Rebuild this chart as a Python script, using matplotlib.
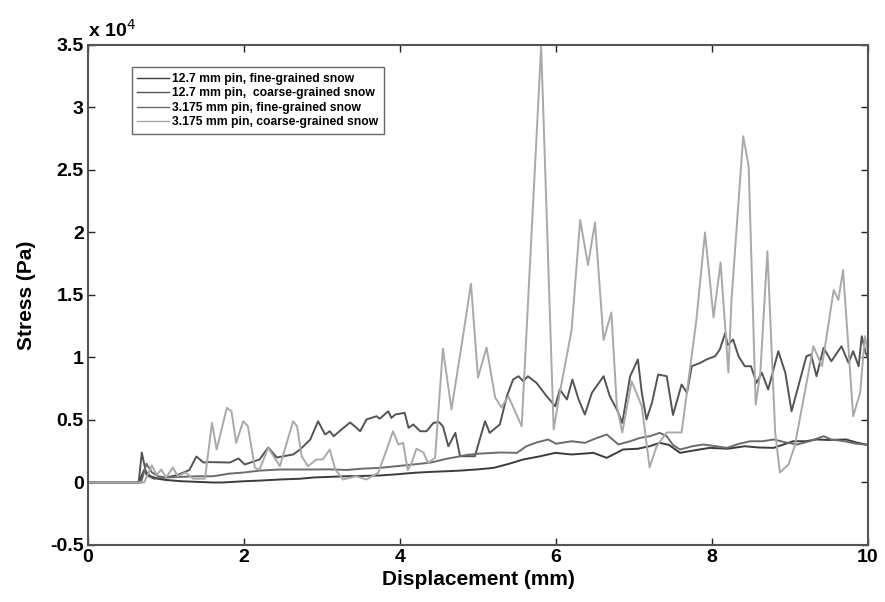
import matplotlib
matplotlib.use("Agg")
import matplotlib.pyplot as plt
from matplotlib.ticker import FuncFormatter, MultipleLocator

plt.rcParams["font.family"] = ["Liberation Sans", "DejaVu Sans"]

# 12.7 mm pin, fine-grained snow
x_fine_127 = [0, 0.65, 0.72, 0.8, 0.9, 1.0, 1.2, 1.4, 1.6, 1.73, 2.0, 2.2, 2.46, 2.72,
              2.89, 3.1, 3.32, 3.5, 3.74, 3.95, 4.17, 4.4, 4.6, 4.77, 5.0, 5.2, 5.4,
              5.58, 5.8, 5.99, 6.2, 6.48, 6.65, 6.86, 7.05, 7.2, 7.33, 7.45, 7.59, 7.8,
              7.97, 8.2, 8.42, 8.6, 8.79, 9.04, 9.2, 9.34, 9.5, 9.72, 9.85, 10.0]
y_fine_127 = [0, 0, 1000, 500, 300, 200, 100, 50, 0, 0, 100, 150, 240, 300,
              400, 450, 500, 520, 560, 650, 770, 850, 900, 950, 1050, 1170, 1500,
              1840, 2100, 2370, 2240, 2370, 1970, 2640, 2700, 2900, 3170, 3000, 2370, 2600,
              2770, 2700, 2900, 2800, 2770, 3300, 3300, 3440, 3400, 3440, 3200, 3000]

# 12.7 mm pin, coarse-grained snow
x_coarse_127 = [0, 0.65, 0.69, 0.75, 0.85, 1.0, 1.15, 1.3, 1.39, 1.48, 1.55, 1.82, 1.93,
                2.01, 2.2, 2.31, 2.42, 2.63, 2.72, 2.85, 2.95, 3.04, 3.1, 3.15, 3.25,
                3.36, 3.42, 3.49, 3.57, 3.7, 3.74, 3.85, 3.89, 3.94, 4.06, 4.11, 4.17,
                4.26, 4.34, 4.43, 4.5, 4.55, 4.62, 4.71, 4.77, 4.96, 5.09, 5.15, 5.28,
                5.37, 5.45, 5.52, 5.58, 5.64, 5.75, 5.88, 5.99, 6.05, 6.14, 6.21, 6.29,
                6.37, 6.46, 6.61, 6.69, 6.78, 6.85, 6.95, 7.05, 7.1, 7.16, 7.23, 7.31,
                7.42, 7.5, 7.61, 7.68, 7.74, 7.85, 7.93, 8.04, 8.1, 8.17, 8.2, 8.27,
                8.34, 8.42, 8.5, 8.57, 8.64, 8.72, 8.85, 8.94, 9.02, 9.13, 9.21, 9.27,
                9.34, 9.43, 9.53, 9.66, 9.75, 9.81, 9.88, 9.92, 9.97, 10.0]
y_coarse_127 = [0, 0, 2400, 600, 300, 400, 600, 1000, 2080, 1600, 1630, 1600, 1920,
                1440, 1840, 2800, 2000, 2240, 2640, 3440, 4900, 3840, 4100, 3700, 4240,
                4800, 4500, 4100, 5040, 5300, 5100, 5700, 5170, 5440, 5570, 4370, 4640,
                4100, 4100, 4770, 4830, 4500, 2900, 3970, 2100, 2100, 4900, 3970, 4640,
                6900, 8240, 8500, 8100, 8500, 7970, 6900, 6100, 7440, 6640, 8240, 6640,
                5440, 7170, 8500, 6900, 5840, 4770, 8500, 9840, 7170, 5040, 6370, 8640,
                8500, 5400, 7840, 7170, 9300, 9570, 9840, 10100, 10640, 11970, 11000, 11440,
                10100, 9300, 9300, 7970, 8770, 7440, 10500, 8770, 5700, 8240, 10100, 10240,
                8500, 10770, 9700, 10900, 9570, 10500, 9300, 11700, 10370, 10000]

# 3.175 mm pin, fine-grained snow
x_fine_3175 = [0, 0.68, 0.75, 0.82, 0.9, 1.0, 1.2, 1.4, 1.61, 1.8, 2.0, 2.2, 2.46, 2.72,
               2.89, 3.1, 3.32, 3.5, 3.74, 3.95, 4.17, 4.4, 4.6, 4.69, 4.85, 5.0, 5.28,
               5.5, 5.62, 5.75, 5.9, 6.0, 6.2, 6.37, 6.5, 6.65, 6.8, 6.95, 7.08, 7.2,
               7.33, 7.42, 7.5, 7.59, 7.75, 7.89, 8.05, 8.19, 8.35, 8.49, 8.65, 8.79,
               8.95, 9.09, 9.25, 9.43, 9.53, 9.7, 9.85, 9.96, 10.0]
y_fine_3175 = [0, 0, 1500, 800, 500, 400, 450, 500, 500, 700, 800, 950, 1040, 1040,
               1040, 1050, 1000, 1100, 1170, 1300, 1440, 1600, 1900, 2000, 2200, 2300, 2400,
               2370, 2900, 3200, 3440, 3100, 3300, 3170, 3500, 3840, 3040, 3300, 3570, 3700,
               3970, 3700, 3000, 2640, 2900, 3040, 2900, 2770, 3100, 3300, 3300, 3440,
               3200, 3040, 3300, 3700, 3440, 3300, 3100, 3040, 3000]

# 3.175 mm pin, coarse-grained snow
x_coarse_3175 = [0, 0.72, 0.82, 0.88, 0.94, 1.0, 1.09, 1.15, 1.25, 1.35, 1.5, 1.59, 1.65,
                 1.78, 1.84, 1.9, 1.99, 2.05, 2.14, 2.2, 2.31, 2.46, 2.63, 2.68, 2.74,
                 2.82, 2.93, 3.01, 3.1, 3.17, 3.27, 3.44, 3.57, 3.72, 3.83, 3.91, 3.98,
                 4.04, 4.1, 4.15, 4.21, 4.3, 4.36, 4.45, 4.55, 4.66, 4.8, 4.91, 5.0, 5.11,
                 5.22, 5.3, 5.39, 5.56, 5.81, 5.97, 6.05, 6.2, 6.31, 6.41, 6.5, 6.61,
                 6.71, 6.78, 6.85, 6.97, 7.1, 7.2, 7.29, 7.42, 7.5, 7.61, 7.8, 7.91, 8.02,
                 8.11, 8.21, 8.25, 8.4, 8.47, 8.56, 8.62, 8.71, 8.81, 8.87, 8.98, 9.06,
                 9.3, 9.41, 9.56, 9.62, 9.68, 9.81, 9.9, 9.96, 10.0]
y_coarse_3175 = [0, 0, 1360, 600, 1040, 400, 1200, 500, 800, 300, 300, 4770, 2640,
                 5970, 5700, 3170, 4900, 4500, 1170, 1040, 2770, 1300, 4900, 4500, 2100,
                 1300, 1840, 1840, 2640, 1040, 240, 500, 240, 770, 2640, 4100, 3040,
                 3170, 1000, 1570, 2700, 2400, 1570, 1970, 10700, 5840, 11400, 15900, 8400, 10800,
                 6800, 6000, 6900, 4500, 34900, 4240, 7200, 12200, 21000, 17400, 20800, 11400,
                 13600, 6100, 4000, 8100, 6100, 1200, 2900, 4000, 4000, 4000, 13000, 20000, 13200,
                 17600, 8800, 14600, 27700, 25300, 6240, 8800, 18500, 4000, 800, 1440, 2900,
                 10900, 9300, 15400, 14600, 17000, 5300, 7200, 11700, 10500]

labels = ["12.7 mm pin, fine-grained snow",
          "12.7 mm pin,  coarse-grained snow",
          "3.175 mm pin, fine-grained snow",
          "3.175 mm pin, coarse-grained snow"]
colors = ["#3c3c3c", "#545454", "#6c6c6c", "#a9a9a9"]

series = [(x_fine_127, y_fine_127), (x_coarse_127, y_coarse_127),
          (x_fine_3175, y_fine_3175), (x_coarse_3175, y_coarse_3175)]

fig = plt.figure(figsize=(8.85, 6.02), dpi=100)
ax = fig.add_axes([0.0994, 0.0947, 0.8814, 0.8306])

for (xs, ys), lab, col in zip(series, labels, colors):
    ax.plot(xs, ys, color=col, lw=1.4, label=lab)

ax.set_xlim(0, 10)
ax.set_ylim(-5000, 35000)
ax.xaxis.set_major_locator(MultipleLocator(2))
ax.yaxis.set_major_locator(MultipleLocator(5000))
ax.yaxis.set_major_formatter(FuncFormatter(lambda v, p: "%g" % (v / 1e4)))

ax.tick_params(direction="in", length=5, width=1, top=True, right=True,
               labelsize=14, pad=3, color="#222222")
for lab in ax.get_xticklabels() + ax.get_yticklabels():
    lab.set_fontweight("bold")
for sp in ax.spines.values():
    sp.set_linewidth(1.5)
    sp.set_color("#555555")

ax.set_xlabel("Displacement (mm)", fontsize=15, fontweight="bold", labelpad=3)
ax.set_ylabel("Stress (Pa)", fontsize=15, fontweight="bold", labelpad=10)
ax.text(0.0, 1.008, "x 10$^{4}$", transform=ax.transAxes, fontsize=14,
        fontweight="bold", ha="left", va="bottom")

leg = ax.legend(loc="upper left", bbox_to_anchor=(0.056, 0.955),
                prop={"weight": "bold", "size": 8.7}, handlelength=2.6,
                handletextpad=0.3, labelspacing=0.2, borderpad=0.45,
                borderaxespad=0.0, fancybox=False, framealpha=1)
leg.get_frame().set_edgecolor("#666666")
leg.get_frame().set_linewidth(1.0)
for h in leg.get_lines():
    h.set_linewidth(1.0)

fig.savefig("out.png", dpi=100)
